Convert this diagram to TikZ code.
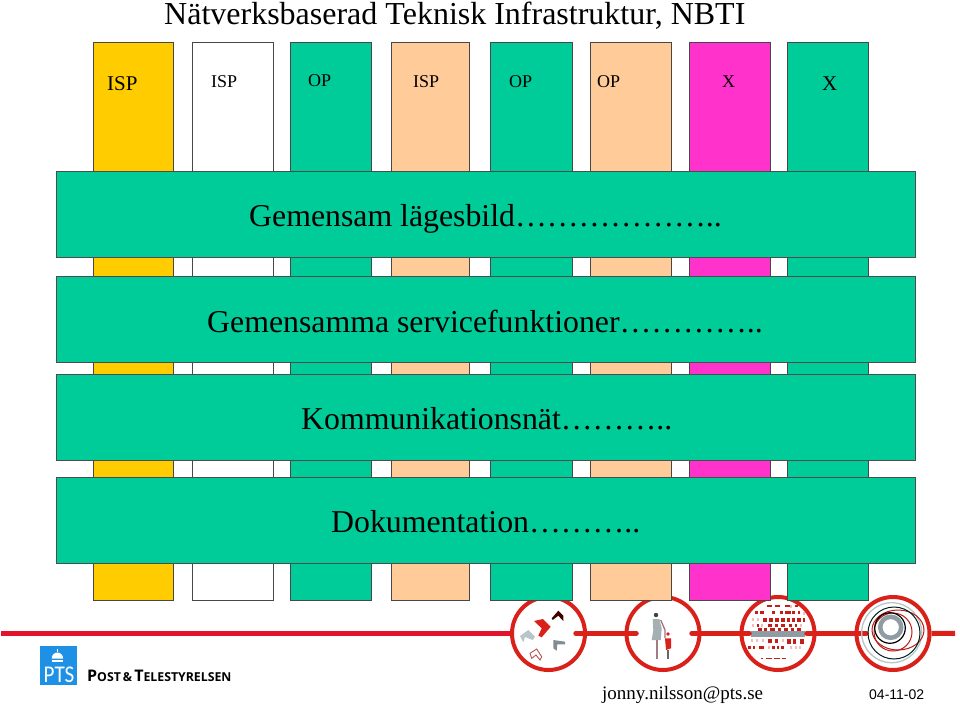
\documentclass[tikz,border=0pt]{standalone}
\usepackage{fontspec}
\setmainfont{Liberation Serif}
\newfontfamily\logofont{Open Sans}
\newfontfamily\ptsfont{Carlito}
\newfontfamily\datefont{Liberation Sans}
\definecolor{Guld}{HTML}{FFCC00}
\definecolor{Gron}{HTML}{00CC99}
\definecolor{Persika}{HTML}{FFCC99}
\definecolor{Magenta}{HTML}{FF33CC}
\definecolor{Linje}{HTML}{E2132B}
\definecolor{Ring}{HTML}{D9211A}
\definecolor{Gra}{HTML}{8F9CA3}
\definecolor{Ljusgra}{HTML}{B9C6C9}
\definecolor{PtsBla}{HTML}{1E90E6}
\newcommand{\fs}[1]{\fontsize{#1}{#1}\selectfont}
\begin{document}
\begin{tikzpicture}[x=1pt,y=-1pt,
    stav/.style={draw=black!72,line width=1.3pt,anchor=north west,inner sep=0pt,minimum height=558pt},
    band/.style={fill=Gron,draw=black!70,line width=.8pt,anchor=north west,inner sep=0pt,minimum width=859pt,minimum height=86pt},
    etikett/.style={anchor=base west,inner sep=0pt},
    bandtext/.style={etikett,font=\fs{31.8}},
    ring/.style={circle,draw=Ring,line width=4pt,fill=white,minimum size=73pt,inner sep=0pt},
    led/.style={draw=Ring,line width=5.5pt,line cap=round}]
    \useasboundingbox (0,0) rectangle (960,704);
    % red line and emblems
    \coordinate (r0) at (1,633.3);
    \coordinate (r1) at (510,633.3);
    \coordinate (l1) at (576,633.3);
    \coordinate (l2) at (636,633.3);
    \coordinate (l3) at (692,633.3);
    \coordinate (l4) at (749,633.3);
    \coordinate (l5) at (807,633.3);
    \coordinate (l6) at (866,633.3);
    \coordinate (l7) at (955,633.3);
    \draw[Linje,line width=5pt] (r0)--(r1);
    \node[ring] (e1) at (548.5,633.5) {};
    \node[ring] (e2) at (663,633.5) {};
    \node[ring] (e3) at (778,633.5) {};
    \node[ring] (e4) at (893,633.5) {};
    % emblem 1
    \fill[Ring] (534,621)--(543,619)--(550.7,626.7)--(541.7,637.3)--(538.3,635.7)--(541.7,628.3)--cycle;
    \fill[black!75!red] (551.7,618.3)--(558.3,610.7)--(563.3,615.7)--(563.3,621)--(558.3,615.7)--(552.7,620)--cycle;
    \fill[Ljusgra] (520,636)--(528.3,630)--(535,636.7)--(532.7,640)--(525,637)--(523.3,642.3)--cycle;
    \fill[Gra!90!black] (553.3,640)--(565,641.7)--(565,644.3)--(557.3,644.3)--(556.7,650.7)--(553.3,648.3)--cycle;
    \draw[Ring!60!Gra,line width=.9pt] (530,653.3)--(536.7,649)--(541.7,656.7)--(540,660)--(536,655)--(531.7,658.3)--cycle;
    % emblem 2
    \fill[black!75] (656,615) circle (2.2pt);
    \draw[Ring!35!Gra,line width=1.3pt] (660.7,620)--(665,630)--(665,638);
    \fill[Gra!80] (652.7,619)--(659.3,619)--(661.7,628.3)--(660.7,640)--(651.7,640)--(653.3,630)--cycle;
    \draw[Ring!25!Gra,line width=1.8pt] (656.7,640)--(656.7,659);
    \fill[Ring] (668,634) circle (1.8pt);
    \fill[Ring] (665,638.3)--(671,638.3)--(671,648.3)--(666,650)--cycle;
    \draw[black!60,line width=1.4pt] (668,650)--(668,659);
    % emblem 3
    \foreach \x/\y/\w/\h in {767/605/5/2,775/605/5/2,785/605/5/2,795/605/3/2,
        755/611/3/3,760/611/4/3,772/611/3/3,780/611/3/3,785/611/6/3,792/611/3/3,798/611/2/3,
        763/618/4/3.5,769/618/4/3.5,775/618/4/3.5,781/618/4/3.5,787/618/3/3.5,792/618/3/3.5,797/618/4/3.5,803/618/2/3.5,
        757/624/2/3,768/624/4/3,775/624/3/3,781/624/4/3,789/624/3/3,795/624/2/3,
        758/628/4/2.5,764/628/3/2.5,770/628/5/2.5,778/628/3/2.5,784/628/4/2.5,791/628/3/2.5,797/628/4/2.5,
        768/639/4/4,775/639/3/4,787/639/4/5,793/639/3/5,800/639/4/5,
        748/646/3/3,753/646/2/3,759/646/5/3,772/646/3/3,777/646/2/3,781/646/3/3,
        761/658/2/1.2,766/658/6/1.2,774/658/6/1.2,782/658/4/1.2}
        \fill[Ring!90!black] (\x,\y) rectangle ++(\w,\h);
    \foreach \x/\y in {752/618,752/624,757/618,790/605,803/612,751/639,756/639,762/639,782/639,790/646,795/646,799/646,768/646,800/624,761/624}
        \fill[Ring!30] (\x,\y) rectangle ++(1.5,3);
    \fill[Gra] (751,630.7) rectangle (805,636.5);
    \draw[led] (l1)--(l2);\draw[led] (l3)--(l4);\draw[led] (l5)--(l6);
    \draw[Ring,line width=5pt] (e4.east)--(l7);
    % emblem 4
    \draw[Ljusgra,line width=1.3pt] (891.7,632.7) circle (30pt);
    \draw[Ring!85!black,line width=1pt] (898,630) ellipse (26pt and 20pt);
    \draw[black!75!teal,line width=1pt] (894,633) circle (26pt);
    \draw[Ring!85!black,line width=1pt] (893,632) circle (19pt);
    \draw[black,line width=1.2pt] (890,628) circle (15.3pt);
    \draw[Gra,line width=4.5pt] (890.7,627.3) circle (10.5pt);
    % columns
    \node[stav,fill=Guld,minimum width=80pt] (k1) at (93,42) {};
    \node[stav,fill=white,minimum width=81pt] (k2) at (192,42) {};
    \node[stav,fill=Gron,minimum width=81pt] (k3) at (290,42) {};
    \node[stav,fill=Persika,minimum width=78pt] (k4) at (391,42) {};
    \node[stav,fill=Gron,minimum width=82pt] (k5) at (490,42) {};
    \node[stav,fill=Persika,minimum width=81pt] (k6) at (590,42) {};
    \node[stav,fill=Magenta,minimum width=81pt] (k7) at (689,42) {};
    \node[stav,fill=Gron,minimum width=81pt] (k8) at (787,42) {};
    \node[etikett,font=\fs{21}] (t1) at (107,90) {ISP};
    \node[etikett,font=\fs{18}] (t2) at (211,87) {ISP};
    \node[etikett,font=\fs{18}] (t3) at (308,86) {OP};
    \node[etikett,font=\fs{18}] (t4) at (413,87) {ISP};
    \node[etikett,font=\fs{18}] (t5) at (509,87) {OP};
    \node[etikett,font=\fs{18}] (t6) at (597,87) {OP};
    \node[etikett,font=\fs{18}] (t7) at (722,87) {X};
    \node[etikett,font=\fs{21}] (t8) at (822,90) {X};
    % bands
    \node[band] (b1) at (56,171) {};
    \node[band] (b2) at (56,276) {};
    \node[band] (b3) at (56,374) {};
    \node[band] (b4) at (56,477) {};
    \node[bandtext] (g1) at (249,226) {Gemensam lägesbild………………..};
    \node[bandtext] (g2) at (207,332) {Gemensamma servicefunktioner…………..};
    \node[bandtext] (g3) at (301,429) {Kommunikationsnät………..};
    \node[bandtext] (g4) at (331,532) {Dokumentation………..};
    % title and footer
    \node[etikett,font=\fs{32}] (titel) at (164,24) {Nätverksbaserad Teknisk Infrastruktur, NBTI};
    \node[etikett,font=\fs{19}] (mail) at (602,699) {jonny.nilsson@pts.se};
    \node[etikett,font=\datefont\fs{14}] (datum) at (869,699) {04-11-02};
    % logo
    \node[fill=PtsBla,anchor=north west,inner sep=0pt,minimum width=37pt,minimum height=39.5pt] (logo) at (39.3,645.7) {};
    \node[etikett,white,font=\ptsfont\fs{24},xscale=.88,transform shape] (pts) at (43.5,682) {PTS};
    \fill[white] (51.7,658.5) arc (180:0:5.7pt and 6pt)--cycle;
    \fill[white] (51.7,660) rectangle (63,662);
    \fill[white] (56.8,649) rectangle (57.9,652);
    \node[etikett,font=\logofont\bfseries\fs{12.3}] (post) at (87,681) {{\fs{16}P}OST\,\&\,{\fs{16}T}ELESTYRELSEN};
\end{tikzpicture}
\end{document}
